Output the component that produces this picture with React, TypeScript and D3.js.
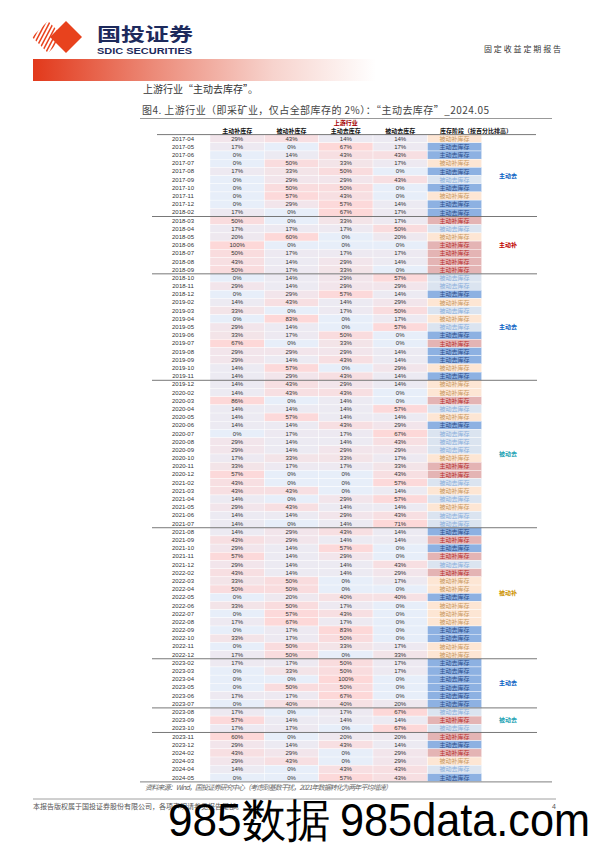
import React from "react";
import * as d3 from "d3";

const dates = ["2017-04","2017-05","2017-06","2017-07","2017-08","2017-09","2017-10","2017-11","2017-12","2018-02",
"2018-03","2018-04","2018-05","2018-06","2018-07","2018-08","2018-09",
"2018-10","2018-11","2018-12","2019-02","2019-03","2019-04","2019-05","2019-06","2019-07","2019-08","2019-09","2019-10","2019-11",
"2019-12","2020-02","2020-03","2020-04","2020-05","2020-06","2020-07","2020-08","2020-09","2020-10","2020-11","2020-12","2021-02","2021-03","2021-04","2021-05","2021-06","2021-07",
"2021-08","2021-09","2021-10","2021-11","2021-12","2022-02","2022-03","2022-04","2022-05","2022-06","2022-07","2022-08","2022-09","2022-10","2022-11","2022-12",
"2023-02","2023-03","2023-04","2023-05","2023-06","2023-07",
"2023-08","2023-09","2023-10",
"2023-11","2023-12","2024-02","2024-03","2024-04","2024-05"];

const activeRestock = [29,17,0,0,17,0,0,0,0,17, 50,17,20,100,50,43,50, 0,29,0,14,33,0,29,33,67,29,29,14,14, 14,14,86,14,14,14,0,29,29,17,33,57,43,43,14,29,14,14, 14,43,29,57,29,43,33,50,0,33,0,17,0,33,0,17, 17,0,0,0,17,0, 17,57,17, 60,29,43,29,14,0];
const passiveRestock = [43,0,14,50,33,29,50,57,29,0, 0,17,60,0,17,14,17, 14,14,29,43,0,83,14,17,0,29,14,57,29, 43,43,0,14,57,14,17,14,14,33,17,0,0,43,0,43,14,0, 29,29,14,14,14,14,50,50,20,50,57,67,17,17,50,50, 17,33,0,50,17,40, 0,14,17, 0,14,29,43,0,0];
const activeDestock = [14,67,43,33,50,29,50,43,57,67, 33,17,0,0,17,29,33, 29,29,57,14,17,0,0,50,33,29,43,0,43, 29,43,14,14,14,43,17,14,29,33,17,0,0,0,29,14,29,14, 43,14,57,29,14,14,0,0,40,17,43,17,83,50,33,0, 50,50,100,50,67,40, 17,14,0, 20,43,0,0,43,57];
const passiveDestock = [14,17,43,17,0,43,0,0,14,17, 17,50,20,0,17,14,0, 57,29,14,29,50,17,57,0,0,14,14,29,14, 14,0,0,57,14,29,67,43,29,17,33,43,57,14,57,14,43,71, 14,14,0,0,43,29,17,0,40,0,0,0,0,0,17,33, 17,17,0,0,0,20, 67,14,67, 20,14,29,29,43,43];
const stages = ["被动补库存","主动去库存","主动去库存","被动补库存","主动去库存","被动去库存","主动去库存","被动补库存","主动去库存","主动去库存",
"主动补库存","被动去库存","被动补库存","主动补库存","主动补库存","主动补库存","主动补库存",
"被动去库存","被动去库存","主动去库存","被动补库存","被动去库存","被动补库存","被动去库存","主动去库存","主动补库存","主动去库存","主动去库存","被动补库存","主动去库存",
"被动补库存","被动补库存","主动补库存","被动去库存","被动补库存","主动去库存","被动去库存","被动去库存","被动去库存","被动补库存","主动补库存","主动补库存","被动去库存","被动补库存","被动去库存","被动补库存","被动去库存","被动去库存",
"主动去库存","主动补库存","主动去库存","主动补库存","被动去库存","主动补库存","被动补库存","被动补库存","主动去库存","被动补库存","被动补库存","被动补库存","主动去库存","主动去库存","被动补库存","被动补库存",
"主动去库存","主动去库存","主动去库存","主动去库存","主动去库存","主动去库存",
"被动去库存","主动补库存","被动去库存",
"主动补库存","主动去库存","主动补库存","被动补库存","被动去库存","主动去库存"];

const columnLabels = ["主动补库存","被动补库存","主动去库存","被动去库存"];
const stageHeader = "库存阶段（按百分比排高）";
const sectionStarts = [0,10,17,30,48,64,70,73];
const sectionEnds = [9,16,29,47,63,69,72,78];
const sectionLabels = ["主动去","主动补","主动去","被动去","被动补","主动去","被动去",""];

const stageStyle: Record<string,{fill:string;color:string}> = {
  "被动补库存": { fill: "#fde6d4", color: "#c99a62" },
  "主动去库存": { fill: "#8db1e2", color: "#2d4f8c" },
  "被动去库存": { fill: "#dbe4f0", color: "#8cb0dc" },
  "主动补库存": { fill: "#e4b4b4", color: "#b8302f" },
};
const labelColor: Record<string,string> = {
  "主动去": "#0a62c4", "主动补": "#c00000", "被动去": "#1ca3b4", "被动补": "#cc9300",
};

const W = 596, H = 843;
const CJK = "'Noto Sans CJK SC', sans-serif";
const LAT = "'Liberation Sans', Arial, sans-serif";

export default function App() {
  const y = d3.scaleBand<string>().domain(dates).range([134.6, 134.6 + dates.length * 8.19]).paddingInner(0);
  const x = d3.scaleBand<string>().domain([...columnLabels, "stage"]).range([210, 481.7]);
  const color = d3.scaleLinear<string>().domain([0, 30, 60]).range(["#e7eef9", "#f2e5ea", "#fdd8d8"]).clamp(true);
  const series = [activeRestock, passiveRestock, activeDestock, passiveDestock];
  const rh = y.bandwidth();
  const cw = x.bandwidth();

  return (
    <svg width={W} height={H} style={{ position: "absolute", left: 0, top: 0, background: "#fff" }}>
      <defs>
        <linearGradient id="band" x1="0" x2="1" y1="0" y2="0">
          <stop offset="0" stopColor="#e2391b" />
          <stop offset="0.35" stopColor="#ec8a78" />
          <stop offset="0.7" stopColor="#f7d3cd" />
          <stop offset="1" stopColor="#ffffff" />
        </linearGradient>
        <clipPath id="leftDia">
          <polygon points="48,21 64,37 48,53 32,37" />
        </clipPath>
      </defs>
      <g clipPath="url(#leftDia)">
        {d3.range(12).map(i => (
          <line key={i} x1={24 + i * 4} y1={56} x2={44 + i * 4} y2={18} stroke="#e8421d" strokeWidth={1.5} />
        ))}
      </g>
      <polygon points="66,21 82,37 66,53 50,37" fill="#e8421d" />
      <text x={97} y={41} fontFamily={CJK} fontWeight={700} fontSize={18} fill="#1d2a5c" textLength={96} lengthAdjust="spacingAndGlyphs">国投证券</text>
      <text x={97} y={54} fontFamily={LAT} fontWeight={700} fontSize={9} fill="#1d2a5c" textLength={95} lengthAdjust="spacingAndGlyphs">SDIC SECURITIES</text>
      <text x={484} y={52} fontFamily={CJK} fontSize={8} fill="#333" textLength={77} lengthAdjust="spacing">固定收益定期报告</text>
      <rect x={33} y={59} width={343} height={22} fill="url(#band)" />

      <text x={143} y={93} fontFamily={CJK} fontSize={10} fill="#333">上游行业“主动去库存”。</text>
      <text x={142} y={114} fontFamily={CJK} fontSize={10} fill="#444" textLength={347} lengthAdjust="spacing">图4. 上游行业（即采矿业，仅占全部库存的 2%）：“主动去库存”_2024.05</text>
      <line x1={140} x2={552} y1={118.5} y2={118.5} stroke="#999" strokeWidth={1.2} />

      <text x={x("主动去库存")! + cw / 2} y={125} textAnchor="middle" fontFamily={CJK} fontWeight={700} fontSize={6} fill="#a50000">上游行业</text>
      {columnLabels.map(c => (
        <text key={c} x={x(c)! + cw / 2} y={133} textAnchor="middle" fontFamily={CJK} fontWeight={700} fontSize={6} fill="#111" textDecoration="underline">{c}</text>
      ))}
      <text x={476} y={133} textAnchor="middle" fontFamily={CJK} fontWeight={700} fontSize={6} fill="#111">{stageHeader}</text>

      {dates.map((d, i) => {
        const yy = y(d)!;
        const st = stageStyle[stages[i]];
        return (
          <g key={d}>
            <text x={183} y={yy + rh / 2 + 2} textAnchor="middle" fontFamily={LAT} fontSize={6} fill="#333">{d}</text>
            {series.map((s, j) => (
              <g key={j}>
                <rect x={x(columnLabels[j])!} y={yy} width={cw} height={rh} fill={color(s[i])} stroke="#fff" strokeWidth={0.4} />
                <text x={x(columnLabels[j])! + cw / 2} y={yy + rh / 2 + 2} textAnchor="middle" fontFamily={LAT} fontSize={6} fill="#333">{s[i]}%</text>
              </g>
            ))}
            <rect x={x("stage")!} y={yy} width={cw} height={rh} fill={st.fill} stroke="#fff" strokeWidth={0.4} />
            <text x={x("stage")! + cw / 2} y={yy + rh / 2 + 2.1} textAnchor="middle" fontFamily={CJK} fontSize={6} fill={st.color}>{stages[i]}</text>
          </g>
        );
      })}

      <line x1={157} x2={536} y1={y(dates[0])!} y2={y(dates[0])!} stroke="#555" strokeWidth={0.8} />
      {sectionStarts.slice(1).map(s => (
        <line key={s} x1={152} x2={537} y1={y(dates[s])!} y2={y(dates[s])!} stroke="#555" strokeWidth={0.8} />
      ))}
      {sectionLabels.map((l, k) => l ? (
        <text key={k} x={508} y={(y(dates[sectionStarts[k]])! + y(dates[sectionEnds[k]])! + rh) / 2 + 2} textAnchor="middle" fontFamily={CJK} fontWeight={700} fontSize={6} fill={labelColor[l]}>{l}</text>
      ) : null)}

      <line x1={140} x2={552} y1={781.8} y2={781.8} stroke="#999" strokeWidth={1.2} />
      <text x={145} y={790} fontFamily={CJK} fontSize={7} fill="#666" fontStyle="italic" textLength={247} lengthAdjust="spacing">资料来源：Wind，国投证券研究中心（考虑到基数干扰，2021年数据转化为两年平均增速）</text>

      <line x1={33} x2={556} y1={799} y2={799} stroke="#888" strokeWidth={0.8} />
      <text x={33} y={809} fontFamily={CJK} fontSize={7} fill="#555">本报告版权属于国投证券股份有限公司，各项声明请参见报告尾部。</text>
      <text x={556} y={809} fontFamily={LAT} fontSize={7} fill="#555" textAnchor="end">4</text>

      <text x={168} y={836} fontFamily={LAT} fontSize={46} fill="#000" textLength={162} lengthAdjust="spacingAndGlyphs">985数据</text>
      <text x={340} y={836} fontFamily={LAT} fontSize={46} fill="#000" textLength={250} lengthAdjust="spacingAndGlyphs">985data.com</text>
    </svg>
  );
}
